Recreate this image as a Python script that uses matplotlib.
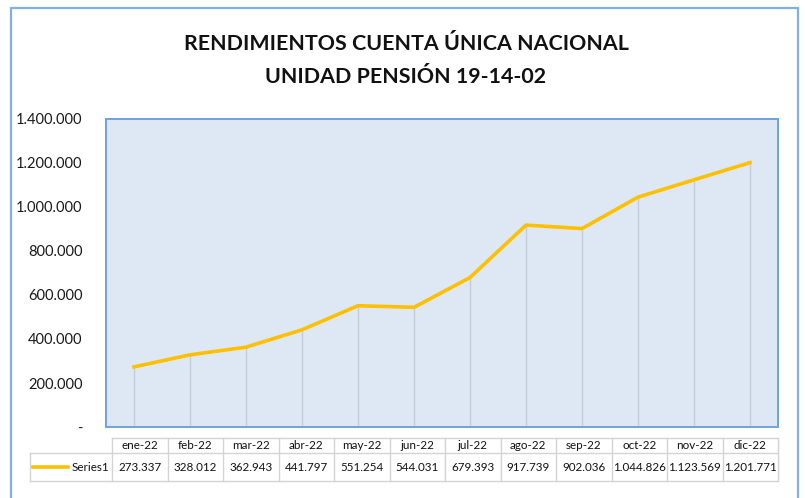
import matplotlib
matplotlib.use("Agg")
import matplotlib.pyplot as plt
from matplotlib.patches import Rectangle
from matplotlib.lines import Line2D
from matplotlib.ticker import FuncFormatter
import numpy as np

plt.rcParams['font.family'] = ['Lato', 'DejaVu Sans']

months = ["ene-22", "feb-22", "mar-22", "abr-22", "may-22", "jun-22",
          "jul-22", "ago-22", "sep-22", "oct-22", "nov-22", "dic-22"]
values = [273337, 328012, 362943, 441797, 551254, 544031,
          679393, 917739, 902036, 1044826, 1123569, 1201771]
series_name = "Series1"
title_lines = ["RENDIMIENTOS CUENTA ÚNICA NACIONAL", "UNIDAD PENSIÓN 19-14-02"]
yticks = [0, 200000, 400000, 600000, 800000, 1000000, 1200000, 1400000]

W, H = 805, 498
fig = plt.figure(figsize=(W / 100, H / 100), dpi=100)

def fx(p):
    return p / W

def fy(p):
    return 1 - p / H

# outer chart border
fig.patches.append(Rectangle((fx(11), fy(520)), fx(798) - fx(11), fy(8) - fy(520),
                             transform=fig.transFigure, fill=False,
                             edgecolor="#7eb0e2", linewidth=1.6, zorder=0))

for i, t in enumerate(title_lines):
    fig.text(fx(406), fy(44 + 33 * i), t, ha="center", va="center",
             fontsize=15.4, fontweight="bold", color="#111111")

ax = fig.add_axes([fx(106), fy(427), fx(778) - fx(106), fy(119) - fy(427)])
ax.set_facecolor("#dde8f4")
x = np.arange(len(months))
ax.vlines(x, 0, values, colors="#c5ced8", linewidth=1.0, zorder=1)
ax.plot(x, values, color="#ffc000", linewidth=2.6, zorder=3, solid_joinstyle="round")
ax.set_xlim(-0.5, 11.5)
ax.set_ylim(0, 1400000)
ax.set_yticks(yticks)
ax.yaxis.set_major_formatter(FuncFormatter(
    lambda v, p: "-" if v == 0 else f"{v:,.0f}".replace(",", ".")))
ax.tick_params(axis="y", length=0, pad=17, labelsize=10.5, labelcolor="#1a1a1a")
ax.set_xticks([])
for s in ax.spines.values():
    s.set_color("#6fa3dc")
    s.set_linewidth(1.4)

# data table below the axes
tr = ax.get_xaxis_transform()
grid_c = "#d4d4d4"
y_top = (427 - 438) / 308.0
y_mid = (427 - 453) / 308.0
y_bot = (427 - 481) / 308.0
x_left_lab = (30 - 106) / 56.0 - 0.5
x0 = (112 - 106) / 56.0 - 0.5
xb = np.linspace(x0, 11.5, len(months) + 1)
lk = dict(transform=tr, color=grid_c, linewidth=1.0, clip_on=False)
ax.add_line(Line2D([x0, 11.5], [y_top, y_top], **lk))
ax.add_line(Line2D([x_left_lab, 11.5], [y_mid, y_mid], **lk))
ax.add_line(Line2D([x_left_lab, 11.5], [y_bot, y_bot], **lk))
ax.add_line(Line2D([x_left_lab, x_left_lab], [y_mid, y_bot], **lk))
for b in xb:
    ax.add_line(Line2D([b, b], [y_top, y_bot], **lk))
centers = (xb[:-1] + xb[1:]) / 2
tk = dict(transform=tr, ha="center", va="center", fontsize=8.4,
          color="#111111", clip_on=False)
for c, m, v in zip(centers, months, values):
    ax.text(c, (y_top + y_mid) / 2, m, **tk)
    ax.text(c, (y_mid + y_bot) / 2, f"{v:,.0f}".replace(",", "."), **tk)
ym = (y_mid + y_bot) / 2
ax.add_line(Line2D([(33 - 106) / 56.0 - 0.5, (68 - 106) / 56.0 - 0.5], [ym, ym],
                   transform=tr, color="#ffc000", linewidth=2.6, clip_on=False))
ax.text((109 - 106) / 56.0 - 0.5, ym, series_name, transform=tr, ha="right",
        va="center", fontsize=8.4, color="#111111", clip_on=False)

fig.savefig("out.png", dpi=100)
